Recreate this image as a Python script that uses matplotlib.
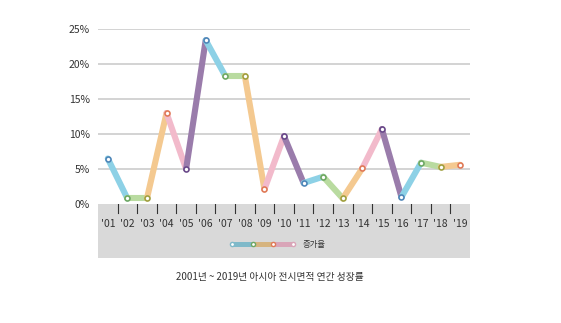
import matplotlib
matplotlib.use("Agg")
import matplotlib.pyplot as plt
from matplotlib.lines import Line2D

plt.rcParams['font.family'] = ['Noto Sans CJK KR', 'DejaVu Sans']

years = ["'01", "'02", "'03", "'04", "'05", "'06", "'07", "'08", "'09", "'10",
         "'11", "'12", "'13", "'14", "'15", "'16", "'17", "'18", "'19"]
growth = [6.5, 0.8, 0.8, 13.0, 5.0, 23.4, 18.3, 18.3, 2.1, 9.7,
          3.0, 3.9, 0.8, 5.1, 10.7, 1.0, 5.9, 5.3, 5.6]
yticks = [0, 5, 10, 15, 20, 25]
series_label = "증가율"
caption = "2001년 ~ 2019년 아시아 전시면적 연간 성장률"

seg_colors = ['#8dd1e6', '#b9dba0', '#f4c990', '#f2bacb', '#9a7cab']
mk_colors = ['#4f86b8', '#6ea864', '#a0a040', '#e07a58', '#6a4a8a']

W, H = 561, 323
fig = plt.figure(figsize=(W / 100, H / 100), dpi=100)
x0, x1 = 98, 470
y0, y1 = 204, 29
ax = fig.add_axes([x0 / W, 1 - y0 / H, (x1 - x0) / W, (y0 - y1) / H])
n = len(years)
ax.set_xlim(-0.5, n - 0.5)
ax.set_ylim(0, 25)
for s in ax.spines.values():
    s.set_visible(False)
ax.set_yticks(yticks)
ax.set_yticklabels([f"{v}%" for v in yticks], fontsize=7.5, color='#333333')
ax.tick_params(axis='y', length=0, pad=6)
ax.set_xticks([])
for v in yticks[1:]:
    ax.axhline(v, color='#cccccc', lw=1.2, zorder=0)
ax.patch.set_alpha(0)

xs = list(range(n))
for i in range(n - 1):
    ax.plot(xs[i:i + 2], growth[i:i + 2], color=seg_colors[i % 5], lw=4.4,
            solid_capstyle='round', zorder=2)
for i in range(n):
    ax.plot(xs[i], growth[i], 'o', ms=3.6, mfc='white', mec=mk_colors[i % 5], mew=1.2,
            zorder=3, clip_on=False)

# gray band below the axis
band = fig.add_axes([x0 / W, 1 - 258 / H, (x1 - x0) / W, (258 - y0) / H])
band.set_xlim(-0.5, n - 0.5)
band.set_ylim(0, 54)
band.set_facecolor('#d9d9d9')
for s in band.spines.values():
    s.set_visible(False)
band.set_xticks([])
band.set_yticks([])
for i in range(n - 1):
    band.plot([i + 0.5, i + 0.5], [54, 45], color='#333333', lw=0.8)
for i, lab in enumerate(years):
    band.text(i, 34, lab, ha='center', va='center', fontsize=7.5, color='#333333')

# legend
ly = 1 - 244 / H
lx = [232 / W, 253 / W, 273 / W, 293 / W]
leg_cols = ['#7fb9c9', '#d6b47f', '#d9a5b8']
for k in range(3):
    fig.add_artist(Line2D([lx[k], lx[k + 1]], [ly, ly], color=leg_cols[k], lw=3.6,
                          solid_capstyle='round', transform=fig.transFigure))
for k, c in enumerate(['#7fb9c9', '#6ea864', '#e07a58', '#d9a5b8']):
    fig.add_artist(Line2D([lx[k]], [ly], marker='o', ms=3, mfc='white', mec=c, mew=1,
                          transform=fig.transFigure))
fig.text(303 / W, ly, series_label, ha='left', va='center', fontsize=6, color='#333333')

fig.text(270 / W, 1 - 277 / H, caption, ha='center', va='center', fontsize=7, color='#333333')

fig.savefig('out.png', dpi=100)
